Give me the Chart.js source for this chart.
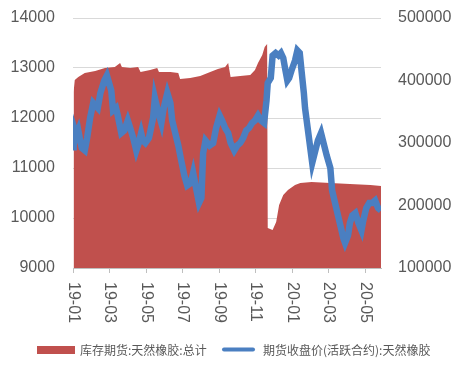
<!DOCTYPE html>
<html>
<head>
<meta charset="utf-8">
<script src="https://cdn.jsdelivr.net/npm/chart.js@4.4.1/dist/chart.umd.min.js"></script>
<style>
  html, body { margin: 0; padding: 0; background: #fff; }
  #wrap { width: 463px; height: 371px; }
</style>
</head>
<body>
<div id="wrap"><canvas id="rubberChart" width="463" height="371"></canvas></div>
<script>
// 期货收盘价(活跃合约):天然橡胶 (left axis)
const priceDates = [
  '2019-01-02','2019-01-03','2019-01-07','2019-01-10','2019-01-14','2019-01-16','2019-01-21','2019-01-25',
  '2019-01-30','2019-02-04','2019-02-11','2019-02-15','2019-02-21','2019-02-25','2019-03-04','2019-03-07',
  '2019-03-12','2019-03-15','2019-03-21','2019-03-26','2019-04-01','2019-04-05','2019-04-10','2019-04-15',
  '2019-04-19','2019-04-23','2019-04-26','2019-04-30','2019-05-06','2019-05-13','2019-05-16','2019-05-21',
  '2019-05-27','2019-05-31','2019-06-06','2019-06-11','2019-06-14','2019-06-19','2019-06-24','2019-06-28',
  '2019-07-04','2019-07-09','2019-07-15','2019-07-19','2019-07-24','2019-07-29','2019-08-02','2019-08-05',
  '2019-08-09','2019-08-16','2019-08-22','2019-08-27','2019-09-02','2019-09-06','2019-09-11','2019-09-16',
  '2019-09-20','2019-09-26','2019-10-01','2019-10-06','2019-10-11','2019-10-16','2019-10-21','2019-10-26',
  '2019-10-31','2019-11-05','2019-11-10','2019-11-15','2019-11-19','2019-11-21','2019-11-26','2019-11-29',
  '2019-12-04','2019-12-09','2019-12-13','2019-12-17','2019-12-20','2019-12-24','2019-12-27','2019-12-31',
  '2020-01-06','2020-01-10','2020-01-14','2020-01-17','2020-01-21','2020-01-23','2020-02-04','2020-02-09',
  '2020-02-13','2020-02-18','2020-02-22','2020-02-27','2020-03-04','2020-03-07','2020-03-12','2020-03-17',
  '2020-03-22','2020-03-26','2020-03-29','2020-04-03','2020-04-06','2020-04-10','2020-04-15','2020-04-20',
  '2020-04-25','2020-04-28','2020-05-03','2020-05-08','2020-05-13','2020-05-18','2020-05-23','2020-05-28'
];
const priceValues = [
  11350,11800,11650,11750,11500,11400,11350,11600,
  12000,12300,12200,12500,12750,12850,12550,12150,
  12200,12050,11700,11750,11950,11800,11600,11350,
  11500,11700,11550,11500,11600,12000,12400,12150,
  11900,12200,12500,12300,11950,11700,11450,11200,
  10850,10650,10700,10900,10600,10300,10400,11300,
  11550,11450,11500,11800,12050,11950,11800,11700,
  11500,11350,11450,11500,11600,11750,11800,11900,
  11950,12050,11950,11900,12350,12700,12800,13250,
  13300,13250,13300,13200,13000,12750,12800,12950,
  13150,13350,13300,12950,12500,12200,11100,11350,
  11550,11700,11500,11250,11000,10550,10300,10050,
  9800,9600,9500,9650,9900,10050,10100,9900,
  9750,9950,10200,10300,10300,10350,10200,10150
];

// 库存期货:天然橡胶:总计 (right axis)
const stockDates = [
  '2019-01-02','2019-01-04','2019-01-10','2019-01-21','2019-02-07','2019-02-22','2019-03-10','2019-03-19',
  '2019-03-22','2019-04-05','2019-04-18','2019-04-22','2019-05-08','2019-05-20','2019-05-23','2019-06-11',
  '2019-06-24','2019-06-27','2019-07-14','2019-07-31','2019-08-17','2019-08-30','2019-09-11','2019-09-16',
  '2019-09-20','2019-10-06','2019-10-23','2019-10-31','2019-11-05','2019-11-12','2019-11-16','2019-11-20',
  '2019-11-21','2019-11-29','2019-12-05','2019-12-10','2019-12-17','2019-12-25','2020-01-06','2020-01-15',
  '2020-02-03','2020-03-04','2020-04-06','2020-05-10','2020-05-28'
];
const stockValues = [
  381600,400800,405600,412000,415200,420000,421600,428000,
  421600,420000,421600,413600,416800,420000,413600,413600,
  412000,402400,404000,407200,413600,418400,421600,428000,
  405600,407200,408800,416800,428000,440800,453600,458400,
  164000,160800,173600,200800,216800,224800,232800,236000,
  237600,236000,234400,232800,231200
];

// x axis ticks: every two months
const tickMonths = [0, 2, 4, 6, 8, 10, 12, 14, 16];
const tickLabels = ['19-01','19-03','19-05','19-07','19-09','19-11','20-01','20-03','20-05'];

const legendNames = ['库存期货:天然橡胶:总计', '期货收盘价(活跃合约):天然橡胶'];

const RED = '#c0504d';
const BLUE = '#4a7fc1';
const TEXT = '#595959';

function toMonth(s) {
  const [y, m, d] = s.split('-').map(Number);
  const dim = new Date(y, m, 0).getDate();
  return (y - 2019) * 12 + (m - 1) + (d - 1) / dim;
}

const pricePoints = priceDates.map((d, i) => ({ x: toMonth(d), y: priceValues[i] }));
const stockPoints = stockDates.map((d, i) => ({ x: toMonth(d), y: stockValues[i] }));
const xMax = toMonth(priceDates[priceDates.length - 1]);

// x labels read top-to-bottom, and the legend sits under them
const extras = {
  id: 'extras',
  afterDraw(chart) {
    const ctx = chart.ctx;
    const xs = chart.scales.x;
    ctx.save();
    ctx.fillStyle = TEXT;
    ctx.font = '16px "Liberation Sans", Arial, sans-serif';
    ctx.textAlign = 'left';
    ctx.textBaseline = 'middle';
    tickMonths.forEach((m, i) => {
      const px = xs.getPixelForValue(m);
      ctx.save();
      ctx.translate(px, chart.chartArea.bottom + 14);
      ctx.rotate(Math.PI / 2);
      ctx.fillText(tickLabels[i], 0, 0);
      ctx.restore();
    });

    const ly = 350;
    ctx.fillStyle = RED;
    ctx.fillRect(37, ly - 4, 38, 8);
    ctx.strokeStyle = BLUE;
    ctx.lineWidth = 4;
    ctx.lineCap = 'round';
    ctx.beginPath();
    ctx.moveTo(224, ly - 0.5);
    ctx.lineTo(253, ly - 0.5);
    ctx.stroke();
    ctx.fillStyle = TEXT;
    ctx.font = '12px "Noto Sans CJK SC", sans-serif';
    ctx.fillText(legendNames[0], 80, ly);
    ctx.fillText(legendNames[1], 263, ly);
    ctx.restore();
  }
};

Chart.defaults.font.family = '"Liberation Sans", Arial, sans-serif';
Chart.defaults.font.size = 16;
Chart.defaults.color = TEXT;

function fixY(width) {
  return s => { s.width = width; s.paddingTop = 0; s.paddingBottom = 0; };
}

const ctx = document.getElementById('rubberChart').getContext('2d');
const rubberChart = new Chart(ctx, {
  type: 'line',
  data: {
    datasets: [
      {
        label: legendNames[1],
        data: pricePoints,
        yAxisID: 'y',
        borderColor: BLUE,
        borderWidth: 6.5,
        pointRadius: 0,
        tension: 0,
        fill: false,
        order: 1
      },
      {
        label: legendNames[0],
        data: stockPoints,
        yAxisID: 'y1',
        borderWidth: 0,
        borderColor: RED,
        backgroundColor: RED,
        pointRadius: 0,
        tension: 0,
        fill: 'start',
        order: 2
      }
    ]
  },
  options: {
    responsive: false,
    animation: false,
    events: [],
    layout: { padding: { top: 18, left: 10.5, right: 11.6, bottom: 98 } },
    plugins: {
      legend: { display: false },
      tooltip: { enabled: false }
    },
    scales: {
      x: {
        type: 'linear',
        min: 0,
        max: xMax,
        afterBuildTicks: s => { s.ticks = tickMonths.map(v => ({ value: v })); },
        afterFit: s => { s.height = 5; s.paddingLeft = 0; s.paddingRight = 0; },
        ticks: { display: false },
        grid: { drawOnChartArea: false, drawTicks: true, tickLength: 5, color: '#bfbfbf' },
        border: { display: true, color: '#bfbfbf' }
      },
      y: {
        position: 'left',
        min: 9000,
        max: 14000,
        afterFit: fixY(62.5),
        ticks: { stepSize: 1000, padding: 18, callback: v => String(v) },
        grid: { color: '#d9d9d9', drawTicks: false },
        border: { display: false }
      },
      y1: {
        position: 'right',
        min: 100000,
        max: 500000,
        afterFit: fixY(70.4),
        ticks: { stepSize: 100000, padding: 17, callback: v => String(v) },
        grid: { display: false, drawTicks: false },
        border: { display: false }
      }
    }
  },
  plugins: [extras]
});
</script>
</body>
</html>
